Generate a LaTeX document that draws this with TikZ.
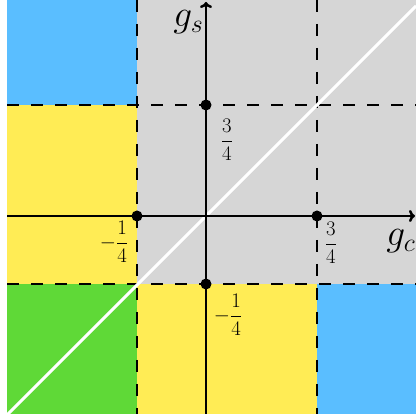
\documentclass[tikz,border=0pt]{standalone}
\usepackage{amsmath}
\usetikzlibrary{arrows.meta}
\definecolor{cblue}{RGB}{90,190,255}
\definecolor{cyellow}{RGB}{255,236,85}
\definecolor{cgreen}{RGB}{95,217,55}
\definecolor{cgray}{RGB}{214,214,214}
\begin{document}
\begin{tikzpicture}[x=1pt,y=-1pt,
  grid/.style={line width=2pt,dash pattern=on 12pt off 12pt},
  axis/.style={line width=2.5pt,-{To[length=6pt,width=12pt]}},
  dot/.style={circle,fill=black,inner sep=0pt,minimum size=11pt},
  lab/.style={font=\fontsize{20}{24}\selectfont,inner sep=0pt},
  big/.style={font=\fontsize{20}{24}\selectfont,inner sep=0pt,scale=1.8}]
\useasboundingbox (0,0) rectangle (416,414);
\fill[cblue] (7,0) rectangle (137,105);
\fill[cgray] (137,0) rectangle (416,284);
\fill[cyellow] (7,105) rectangle (137,284);
\fill[cgreen] (7,284) rectangle (137,414);
\fill[cyellow] (137,284) rectangle (317,414);
\fill[cblue] (317,284) rectangle (416,414);
\draw[grid] (137,0) -- (137,414);
\draw[grid] (317,0) -- (317,414);
\draw[grid] (7,105) -- (416,105);
\draw[grid] (7,284) -- (416,284);
\begin{scope}
\clip (7,0) rectangle (416,414);
\draw[white,line width=3pt] (7,415) -- (416,6);
\end{scope}
\draw[axis] (206,414) -- (206,2);
\draw[axis] (7,216) -- (415,216);
\node[dot] (ys) at (206,105) {};
\node[dot] (xn) at (137,216) {};
\node[dot] (xs) at (317,216) {};
\node[dot] (yn) at (206,284) {};
\node[big,anchor=base east] (gs) at (204,27) {$g_s$};
\node[lab] (l1) at (227,140) {$\dfrac{3}{4}$};
\node[lab] (l2) at (114,242) {$-\dfrac{1}{4}$};
\node[lab] (l3) at (331,243) {$\dfrac{3}{4}$};
\node[big,anchor=base west] (gc) at (386,246) {$g_c$};
\node[lab] (l4) at (228,315) {$-\dfrac{1}{4}$};
\end{tikzpicture}
\end{document}
